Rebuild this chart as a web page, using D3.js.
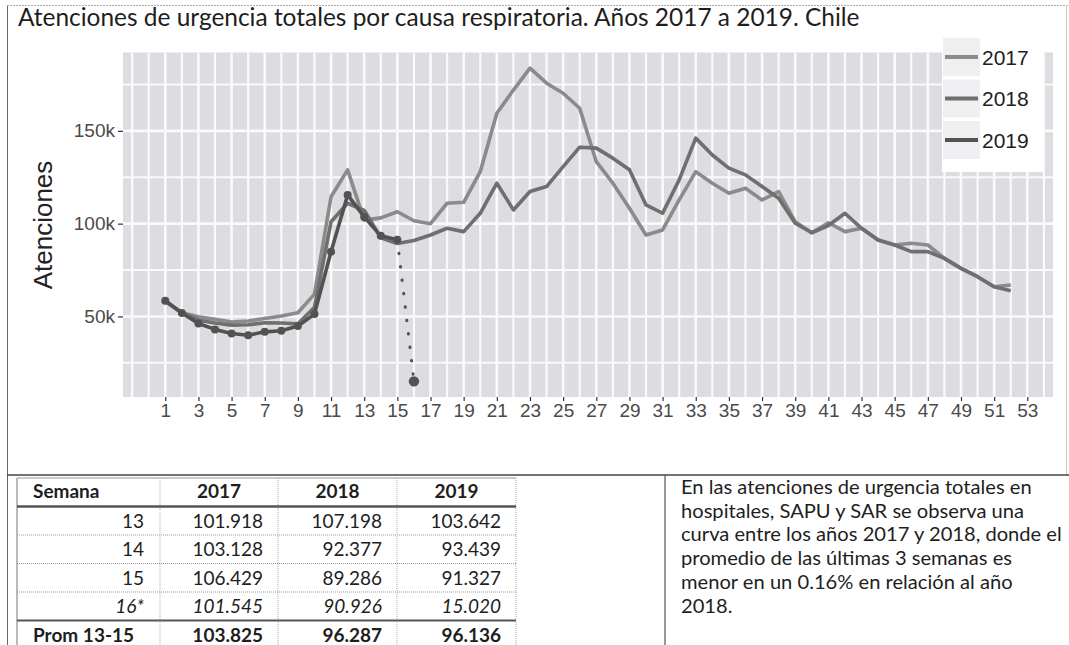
<!DOCTYPE html>
<html>
<head>
<meta charset="utf-8">
<script src="https://cdn.jsdelivr.net/npm/d3@7"></script>
<style>
  body { margin: 0; background: #fff; }
  svg { display: block; }
</style>
</head>
<body>
<svg id="chart" width="1069" height="645"></svg>
<script>
// weekly totals (weeks 13-16 from the table)
const years = ['2017', '2018', '2019']
const y2017 = [58500, 52000, 49800, 48500, 47000, 47500, 48900, 50200, 52000, 62000,
  114500, 129000, 101918, 103128, 106429, 101545, 100000, 111000, 111500, 128000,
  159500, 172000, 183800, 175700, 170300, 162200, 133400, 121800, 108300, 93900,
  96600, 112800, 128000, 121800, 116400, 119100, 112800, 117300, 101000, 95100,
  100500, 95700, 97500, 91200, 88500, 89400, 88500, 81300, 75900, 71400,
  66000, 66900]
const y2018 = [58000, 52000, 48000, 46500, 45300, 45500, 46600, 46500, 46000, 55000,
  101000, 111000, 107198, 92377, 89286, 90926, 93900, 97500, 95700, 105600,
  121800, 107400, 117300, 120000, 130700, 141200, 140700, 135300, 129000, 110100,
  105600, 123600, 146100, 137000, 129900, 126300, 120000, 113700, 100200, 95100,
  99000, 105600, 97500, 91200, 88500, 84900, 84900, 81300, 75900, 71400,
  66000, 63800]
const y2019 = [58500, 51800, 46200, 43000, 40800, 39900, 41700, 42300, 44800, 51300,
  84900, 115500, 103642, 93439, 91327, 15020]
const xTicks = [1, 3, 5, 7, 9, 11, 13, 15, 17, 19, 21, 23, 25, 27, 29, 31, 33, 35, 37,
  39, 41, 43, 45, 47, 49, 51, 53]
const yTicks = [50000, 100000, 150000]
const tableWeeks = [13, 14, 15, 16]
const note = [
  'En las atenciones de urgencia totales en',
  'hospitales, SAPU y SAR se observa una',
  'curva entre los años 2017 y 2018, donde el',
  'promedio de las últimas 3 semanas es',
  'menor en un 0.16% en relación al año',
  '2018.'
]

const series = [y2017, y2018, y2019]
const colors = ['#8b8b8b', '#6f6f6f', '#525252']
const doc = "Lato, 'Open Sans', sans-serif"
const gg = "'Liberation Sans', Arial, sans-serif"

const svg = d3.select('#chart')
svg.append('rect').attr('width', 1069).attr('height', 645).attr('fill', '#fff')

// scales - ggplot style with 5% expansion
const x = d3.scaleLinear().domain([-1.55, 54.55]).range([123, 1053])
const y = d3.scaleLinear().domain([6580, 192240]).range([397, 52.5])

// panel
svg.append('rect')
  .attr('x', x.range()[0]).attr('y', y.range()[1])
  .attr('width', x.range()[1] - x.range()[0])
  .attr('height', y.range()[0] - y.range()[1])
  .attr('fill', '#dcdce1')

const grid = svg.append('g').attr('stroke', '#fafafa')
grid.selectAll('line.v')
  .data(d3.range(-1, 55).filter(w => x(w) > x.range()[0] && x(w) < x.range()[1]))
  .join('line')
    .attr('x1', d => x(d)).attr('x2', d => x(d))
    .attr('y1', y.range()[1]).attr('y2', y.range()[0])
    .attr('stroke-width', d => d % 2 ? 2.6 : 2.2)
grid.selectAll('line.h')
  .data([25000, 50000, 75000, 100000, 125000, 150000, 175000])
  .join('line')
    .attr('y1', d => y(d)).attr('y2', d => y(d))
    .attr('x1', x.range()[0]).attr('x2', x.range()[1])
    .attr('stroke-width', d => d % 50000 ? 2 : 2.6)

// axes
const xAxis = svg.append('g')
  .attr('transform', `translate(0,${y.range()[0]})`)
  .call(d3.axisBottom(x).tickValues(xTicks).tickSize(4).tickPadding(3))
const yAxis = svg.append('g')
  .attr('transform', `translate(${x.range()[0]},0)`)
  .call(d3.axisLeft(y).tickValues(yTicks).tickSize(5).tickPadding(3)
    .tickFormat(d => d / 1000 + 'k'))
for (const ax of [xAxis, yAxis]) {
  ax.select('.domain').remove()
  ax.selectAll('line').attr('stroke', '#333').attr('stroke-width', 1.2)
  ax.selectAll('text').attr('fill', '#4a4a4a').style('font', `19px ${gg}`)
}

svg.append('text')
  .attr('transform', 'translate(52,225) rotate(-90)')
  .attr('text-anchor', 'middle')
  .attr('fill', '#222')
  .style('font', `26px ${gg}`)
  .text('Atenciones')

// lines
const line = d3.line().x((d, i) => x(i + 1)).y(d => y(d))
series.forEach((s, k) => {
  const solid = k === 2 ? s.slice(0, 15) : s
  svg.append('path')
    .attr('d', line(solid))
    .attr('fill', 'none')
    .attr('stroke', colors[k])
    .attr('stroke-width', 3.6)
    .attr('stroke-linejoin', 'round')
})

// 2019: last (partial) week dotted + points
svg.append('line')
  .attr('x1', x(15)).attr('y1', y(y2019[14]))
  .attr('x2', x(16)).attr('y2', y(y2019[15]))
  .attr('stroke', colors[2]).attr('stroke-width', 3)
  .attr('stroke-linecap', 'round')
  .attr('stroke-dasharray', '0.5,13')
svg.append('g').selectAll('circle')
  .data(y2019)
  .join('circle')
    .attr('cx', (d, i) => x(i + 1))
    .attr('cy', d => y(d))
    .attr('r', (d, i) => i === 15 ? 5.2 : 4)
    .attr('fill', colors[2])

// legend
const legend = svg.append('g')
legend.append('rect')
  .attr('x', 942).attr('y', 38).attr('width', 101).attr('height', 134)
  .attr('fill', '#fff')
years.forEach((yr, k) => {
  const cy = 57 + k * 41.5
  legend.append('rect')
    .attr('x', 943).attr('y', cy - 19).attr('width', 37).attr('height', 38)
    .attr('fill', '#efeff1')
  legend.append('line')
    .attr('x1', 945).attr('x2', 978).attr('y1', cy).attr('y2', cy)
    .attr('stroke', colors[k]).attr('stroke-width', 3.8)
  legend.append('text')
    .attr('x', 982).attr('y', cy + 7.5)
    .attr('fill', '#1e1e1e')
    .style('font', `21px ${gg}`)
    .text(yr)
})

// title, fitted to the width it takes in the scan
const title = svg.append('text')
  .attr('x', 18).attr('y', 26)
  .attr('fill', '#1e1e1e')
  .style('font', `22px ${doc}`)
  .text('Atenciones de urgencia totales por causa respiratoria. Años 2017 a 2019. Chile')
const tl = title.node().getComputedTextLength()
title.style('font-size', (22 * 842 / tl) + 'px')

// frame of the scanned page
const frame = svg.append('g').attr('fill', 'none')
frame.append('line').attr('x1', 7.5).attr('x2', 7.5).attr('y1', 5).attr('y2', 645)
  .attr('stroke', '#666')
frame.append('line').attr('x1', 7).attr('x2', 1069).attr('y1', 5.5).attr('y2', 5.5)
  .attr('stroke', '#aaa').attr('stroke-dasharray', '2,1')
frame.append('line').attr('x1', 1066.5).attr('x2', 1066.5).attr('y1', 5).attr('y2', 475)
  .attr('stroke', '#ccc')
frame.append('line').attr('x1', 7).attr('x2', 1069).attr('y1', 475).attr('y2', 475)
  .attr('stroke', '#444').attr('stroke-width', 1.6)
frame.append('line').attr('x1', 665).attr('x2', 665).attr('y1', 475).attr('y2', 645)
  .attr('stroke', '#555').attr('stroke-width', 1.2)

// table
const fmt = d3.formatLocale({decimal: ',', thousands: '.', grouping: [3], currency: ['', '']})
  .format(',.0f')
const colX = [17, 160, 278, 397, 516]
const rowY = [478, 506.5, 535, 563.5, 592, 620.5, 649]
const rows = tableWeeks.map(w => ({
  label: w === 16 ? '16*' : String(w),
  vals: series.map(s => s[w - 1]),
  italic: w === 16, bold: false, right: true
}))
rows.push({
  label: 'Prom 13-15',
  vals: series.map(s => Math.round(d3.mean(s.slice(12, 15)))),
  italic: false, bold: true, right: false
})

const table = svg.append('g').style('font-family', doc).style('font-size', '19px')
  .attr('fill', '#1e1e1e')
// header
table.append('text').attr('x', colX[0] + 16).attr('y', rowY[0] + 20)
  .attr('font-weight', 'bold').text('Semana')
years.forEach((yr, k) => {
  table.append('text')
    .attr('x', (colX[k + 1] + colX[k + 2]) / 2).attr('y', rowY[0] + 20)
    .attr('text-anchor', 'middle').attr('font-weight', 'bold').text(yr)
})
rows.forEach((r, i) => {
  const by = rowY[i + 1] + 21
  table.append('text')
    .attr('x', r.right ? colX[1] - 16 : colX[0] + 16).attr('y', by)
    .attr('text-anchor', r.right ? 'end' : 'start')
    .attr('font-weight', r.bold ? 'bold' : null)
    .attr('font-style', r.italic ? 'italic' : null)
    .text(r.label)
  r.vals.forEach((v, k) => {
    table.append('text')
      .attr('x', colX[k + 2] - 15).attr('y', by)
      .attr('text-anchor', 'end')
      .attr('font-weight', r.bold ? 'bold' : null)
      .attr('font-style', r.italic ? 'italic' : null)
      .text(fmt(v))
  })
})

const tlines = svg.append('g')
colX.forEach(cx => {
  tlines.append('line').attr('x1', cx).attr('x2', cx)
    .attr('y1', rowY[0]).attr('y2', 645)
    .attr('stroke', cx === 17 ? '#777' : '#aaa')
    .attr('stroke-dasharray', cx === 17 ? null : '1,1')
})
tlines.append('line').attr('x1', colX[0]).attr('x2', colX[4])
  .attr('y1', rowY[0]).attr('y2', rowY[0]).attr('stroke', '#999')
tlines.append('line').attr('x1', colX[0]).attr('x2', colX[4])
  .attr('y1', rowY[1]).attr('y2', rowY[1]).attr('stroke', '#555').attr('stroke-width', 2.5)
;[rowY[2], rowY[3], rowY[4]].forEach(ry => {
  tlines.append('line').attr('x1', colX[0]).attr('x2', colX[4])
    .attr('y1', ry).attr('y2', ry).attr('stroke', '#999').attr('stroke-dasharray', '1,1')
})
tlines.append('line').attr('x1', colX[0]).attr('x2', colX[4])
  .attr('y1', rowY[5]).attr('y2', rowY[5]).attr('stroke', '#555').attr('stroke-width', 2)

// note on the right
const noteG = svg.append('g').attr('fill', '#1e1e1e')
  .style('font-family', doc).style('font-size', '19px')
const nt = noteG.selectAll('text')
  .data(note)
  .join('text')
    .attr('x', 681)
    .attr('y', (d, i) => 494 + i * 23.7)
    .text(d => d)
const nl = nt.nodes()[2].getComputedTextLength()
noteG.style('font-size', (19 * 381 / nl) + 'px')
</script>
</body>
</html>
